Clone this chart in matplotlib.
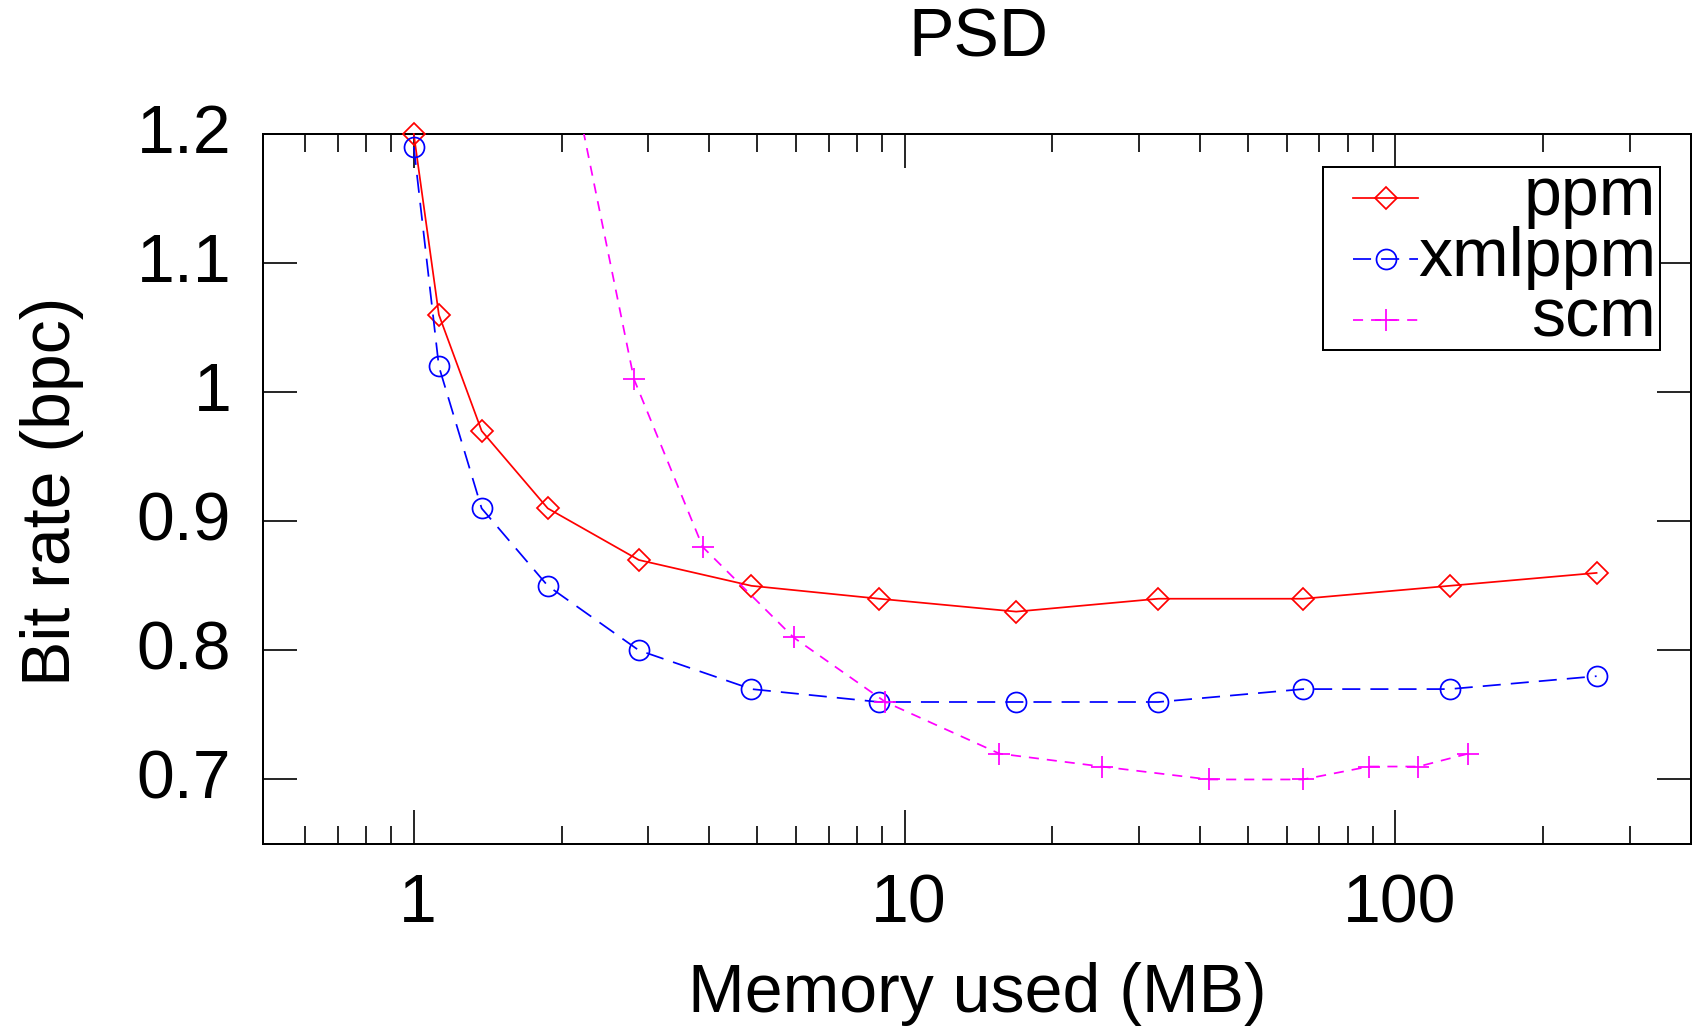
import matplotlib
matplotlib.use("Agg")
import matplotlib.pyplot as plt
import matplotlib.transforms as mtransforms
from matplotlib.patches import Rectangle
from matplotlib.ticker import FixedLocator, NullFormatter

plt.rcParams['font.family'] = ['Liberation Sans', 'DejaVu Sans']

# ---- data ----
title = "PSD"
xlabel = "Memory used (MB)"
ylabel = "Bit rate (bpc)"

ppm_x = [1.0, 1.125, 1.375, 1.875, 2.875, 4.875, 8.875, 16.875, 32.875, 64.875, 128.875, 256.875]
ppm_y = [1.20, 1.06, 0.97, 0.91, 0.87, 0.85, 0.84, 0.83, 0.84, 0.84, 0.85, 0.86]

xmlppm_x = [1.0, 1.125, 1.375, 1.875, 2.875, 4.875, 8.875, 16.875, 32.875, 64.875, 128.875, 256.875]
xmlppm_y = [1.19, 1.02, 0.91, 0.85, 0.80, 0.77, 0.76, 0.76, 0.76, 0.77, 0.77, 0.78]

scm_x = [2.0, 2.81, 3.88, 5.94, 9.14, 15.6, 25.2, 41.7, 64.8, 88.3, 111.4, 140.7]
scm_y = [1.285, 1.01, 0.88, 0.81, 0.76, 0.72, 0.71, 0.70, 0.70, 0.71, 0.71, 0.72]

xticks = [1, 10, 100]
xticklabels = ["1", "10", "100"]
xminor = [0.6, 0.7, 0.8, 0.9, 2, 3, 4, 5, 6, 7, 8, 9,
          20, 30, 40, 50, 60, 70, 80, 90, 200, 300]
yticks = [0.7, 0.8, 0.9, 1.0, 1.1, 1.2]
yticklabels = ["0.7", "0.8", "0.9", "1", "1.1", "1.2"]
series_labels = ["ppm", "xmlppm", "scm"]

# ---- figure ----
W, H = 1693, 1029
fig = plt.figure(figsize=(W / 100, H / 100), dpi=100)
L, R, T, B = 263, 1691, 134, 844
ax = fig.add_axes([L / W, 1 - B / H, (R - L) / W, (B - T) / H])

FS = 49
LW = 1.25
red, blue, mag = "#ff0000", "#0000ff", "#ff00ff"
ls_blue = (0, (10.4, 5.8))
ls_mag = (0, (5.8, 4.6))

ax.plot(ppm_x, ppm_y, color=red, lw=LW, ls='-', marker='D', ms=11.4,
        mfc='none', mec=red, mew=LW, clip_on=False, zorder=4)
ax.plot(xmlppm_x, xmlppm_y, color=blue, lw=LW, ls=ls_blue, marker='o', ms=14.4,
        mfc='none', mec=blue, mew=LW, clip_on=False, zorder=4)
ax.plot(scm_x, scm_y, color=mag, lw=LW, ls=ls_mag, marker='+', ms=15.8,
        mec=mag, mew=LW, zorder=4)

ax.set_xscale('log')
ax.set_xlim(0.493, 400)
ax.set_ylim(0.65, 1.2)

ax.xaxis.set_major_locator(FixedLocator(xticks))
ax.set_xticklabels(xticklabels)
ax.xaxis.set_minor_locator(FixedLocator(xminor))
ax.xaxis.set_minor_formatter(NullFormatter())
ax.set_yticks(yticks)
ax.set_yticklabels(yticklabels)
ax.yaxis.set_minor_locator(FixedLocator([]))

ax.tick_params(axis='both', which='both', direction='in', top=True, right=True,
               width=1.2, color='black', labelsize=FS)
ax.tick_params(axis='both', which='major', length=24.5)
ax.tick_params(axis='x', which='minor', length=13)
ax.tick_params(axis='x', which='major', pad=20.5)
ax.tick_params(axis='y', which='major', pad=22.8)

for sp in ax.spines.values():
    sp.set_linewidth(1.44)

# shift tick labels slightly (as in reference)
off_y = mtransforms.ScaledTranslation(0, 6 / 100, fig.dpi_scale_trans)
for lab in ax.get_yticklabels():
    lab.set_transform(lab.get_transform() + off_y)
off_x = mtransforms.ScaledTranslation(4 / 100, 0, fig.dpi_scale_trans)
for lab in ax.get_xticklabels():
    lab.set_transform(lab.get_transform() + off_x)

# ---- texts ----
fig.text(978 / W, 1 - 56.7 / H, title, ha='center', va='baseline', fontsize=FS)
fig.text(977 / W, 1 - 1011.7 / H, xlabel, ha='center', va='baseline', fontsize=FS)
fig.text(70 / W, 1 - 491 / H, ylabel, ha='center', va='baseline', rotation=90,
         rotation_mode='anchor', fontsize=FS)

# ---- legend (manual, right-aligned labels) ----
def ax_x(px):
    return (px - L) / (R - L)

def ax_y(py):
    return (B - py) / (B - T)

box = Rectangle((ax_x(1323), ax_y(350)), ax_x(1660) - ax_x(1323), ax_y(167) - ax_y(350),
                transform=ax.transAxes, facecolor='white', edgecolor='black',
                lw=1.44, zorder=5, clip_on=False)
ax.add_patch(box)

styles = [
    dict(color=red, ls='-', marker='D', ms=11.4, mfc='none', mec=red),
    dict(color=blue, ls=ls_blue, marker='o', ms=14.4, mfc='none', mec=blue),
    dict(color=mag, ls=ls_mag, marker='+', ms=15.8, mec=mag),
]
rows = [198, 259, 320]
for lab, st, ry in zip(series_labels, styles, rows):
    st = dict(st)
    mk = st.pop('marker'); ms = st.pop('ms')
    mfc = st.pop('mfc', None); mec = st.pop('mec')
    ax.plot([ax_x(1353), ax_x(1418)], [ax_y(ry), ax_y(ry)], transform=ax.transAxes,
            lw=LW, clip_on=False, zorder=6, **st)
    kw = dict(marker=mk, ms=ms, mec=mec, mew=LW, ls='none')
    if mfc is not None:
        kw['mfc'] = mfc
    ax.plot([ax_x(1386)], [ax_y(ry)], transform=ax.transAxes, clip_on=False, zorder=6, **kw)
    ax.text(ax_x(1656), ax_y(ry + 16.7), lab, transform=ax.transAxes, ha='right',
            va='baseline', fontsize=FS, zorder=6)

fig.savefig("out.png", dpi=100)
